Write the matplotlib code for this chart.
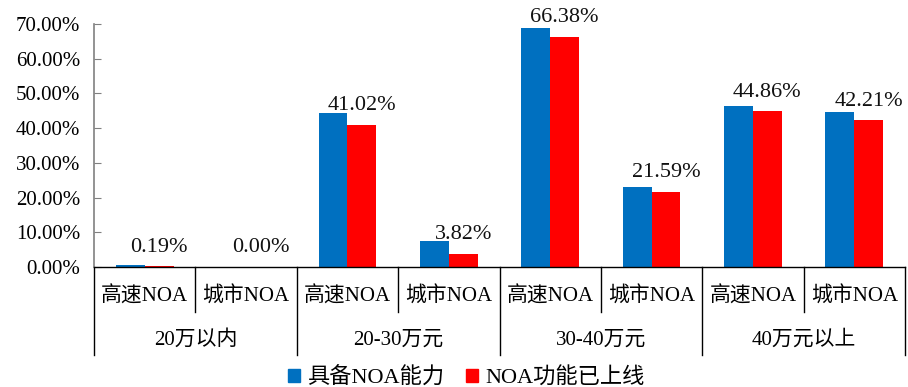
import matplotlib
matplotlib.use("Agg")
import matplotlib.pyplot as plt
import matplotlib.transforms as mtransforms
from matplotlib.patches import Patch
import numpy as np

plt.rcParams['font.family'] = ['Liberation Serif', 'Noto Sans CJK SC']

# Data
groups = ["20万以内", "20-30万元", "30-40万元", "40万元以上"]
sub_labels = ["高速NOA", "城市NOA"]
capable = [0.45, 0.0, 44.3, 7.4, 68.9, 23.0, 46.3, 44.6]      # 具备NOA能力 (%)
launched = [0.19, 0.00, 41.02, 3.82, 66.38, 21.59, 44.86, 42.21]  # NOA功能已上线 (%)
series_names = ["具备NOA能力", "NOA功能已上线"]
yticks = [0, 10, 20, 30, 40, 50, 60, 70]

BLUE = "#0070C0"
RED = "#FF0000"

W, H = 908, 387
fig = plt.figure(figsize=(W / 100, H / 100), dpi=100)
ax_left, ax_right = 94 / W, 905 / W
ax_bottom, ax_top = 1 - 267 / H, 1 - 24 / H
ax = fig.add_axes([ax_left, ax_bottom, ax_right - ax_left, ax_top - ax_bottom])

n = len(capable)
x = np.arange(n)
bw = 0.285
ax.bar(x - bw / 2, capable, bw, color=BLUE, label=series_names[0])
ax.bar(x + bw / 2, launched, bw, color=RED, label=series_names[1])

for xi, v in zip(x, launched):
    ax.annotate(f"{v:.2f}%", xy=(xi + bw / 2, v), xytext=(0, 7),
                textcoords="offset points", ha="center", va="bottom",
                fontsize=16, color="#111111")

ax.set_xlim(-0.5, n - 0.5)
ax.set_ylim(0, 70)
ax.set_yticks(yticks)
ax.set_yticklabels([f"{t:.2f}%" for t in yticks], fontsize=15)
ax.tick_params(axis="y", direction="in", length=5, color="#808080", pad=10)
ax.set_xticks([])

for s in ["top", "right"]:
    ax.spines[s].set_visible(False)
ax.spines["left"].set_color("#808080")
ax.spines["left"].set_linewidth(1.2)
ax.spines["bottom"].set_color("black")
ax.spines["bottom"].set_linewidth(1.0)

# Two-level category axis
axh_px = 267 - 24
trans = mtransforms.blended_transform_factory(ax.transData, ax.transAxes)
short_y = -(312 - 267) / axh_px
long_y = -(355 - 267) / axh_px
sub_y = -(297 - 267) / axh_px
grp_y = -(340 - 267) / axh_px

for b in range(n + 1):
    xb = b - 0.5
    y_end = long_y if b % 2 == 0 else short_y
    ax.plot([xb, xb], [0, y_end], transform=trans, color="black",
            lw=1.0, clip_on=False)

for i in range(n):
    ax.text(i, sub_y, sub_labels[i % 2], transform=trans, ha="center",
            va="center", fontsize=15)

for g, name in enumerate(groups):
    ax.text(2 * g + 0.5, grp_y, name, transform=trans, ha="center",
            va="center", fontsize=15)

handles = [Patch(color=BLUE), Patch(color=RED)]
fig.legend(handles, series_names, loc="center", bbox_to_anchor=(466 / W, 1 - 378 / H),
           ncol=2, frameon=False, fontsize=16, handlelength=0.55, handleheight=0.55,
           handletextpad=0.3, columnspacing=1.0)

fig.savefig("out.png", dpi=100)
